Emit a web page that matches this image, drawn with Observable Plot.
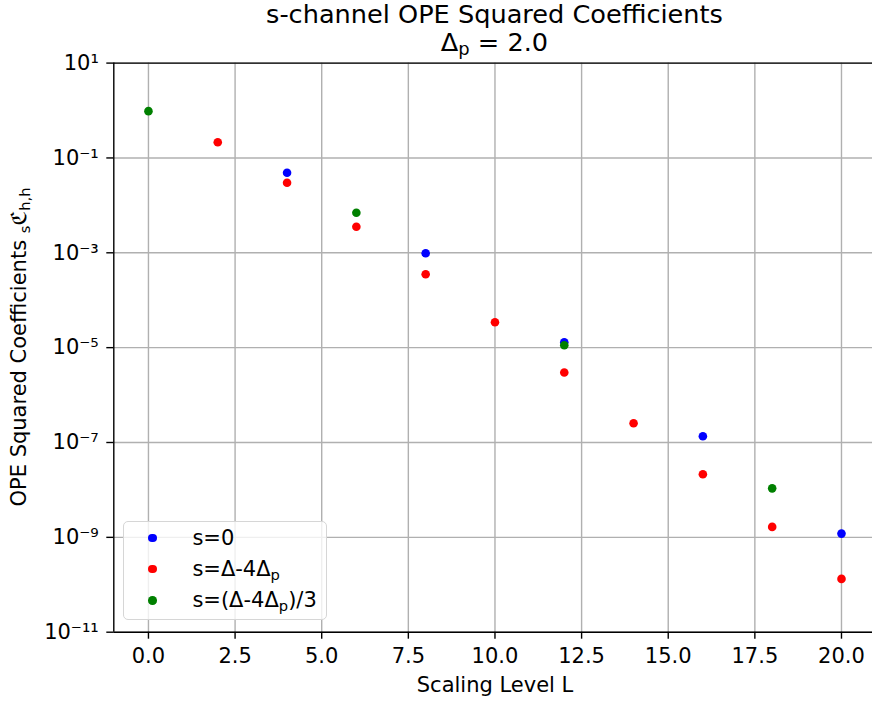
<!DOCTYPE html>
<html><head><meta charset="utf-8">
<script src="https://cdn.jsdelivr.net/npm/d3@7"></script>
<script src="https://cdn.jsdelivr.net/npm/@observablehq/plot@0.6"></script>
<style>
html,body{margin:0;padding:0;background:#fff;overflow:hidden}
#wrap{position:relative;width:872px;height:702px;font-family:"DejaVu Sans",sans-serif;color:#000}
#title{position:absolute;left:117px;width:755px;top:1.3px;text-align:center;font-size:25.6px;line-height:27.3px;white-space:nowrap}
sub{font-size:0.7em;vertical-align:-0.25em;line-height:0}
.ylab{position:absolute;left:26.5px;top:347px;width:0;height:0;transform:rotate(-90deg);transform-origin:0 0}
.ylab span{position:absolute;left:0;top:-17.8px;transform:translateX(-50%);white-space:nowrap;font-size:21px;line-height:21px}
#legend{position:absolute;left:123.3px;top:520.7px;width:203.4px;height:99.3px;box-sizing:border-box;border:1.3px solid #d6d6d6;border-radius:5px;background:rgba(255,255,255,0.8)}
.lm{position:absolute;width:8.6px;height:8.6px;border-radius:50%}
.lt{position:absolute;font-size:21px;line-height:21px;white-space:nowrap}
</style>
</head><body>
<div id="wrap"></div>
<script>
// ---- data ----
const seriesNames = ["s=0", "s=Δ-4Δp", "s=(Δ-4Δp)/3"];
const seriesLabelsHTML = ["s=0", "s=Δ-4Δ<sub>p</sub>", "s=(Δ-4Δ<sub>p</sub>)/3"];
const seriesColors = ["#0000ff", "#ff0000", "#008000"];

const L_s0 = [4, 8, 12, 16, 20];
const C_s0 = [0.0486, 9.8e-4, 1.30e-5, 1.35e-7, 1.20e-9];

const L_s1 = [2, 4, 6, 8, 10, 12, 14, 16, 18, 20];
const C_s1 = [0.215, 0.0299, 0.00353, 3.53e-4, 3.44e-5, 2.99e-6, 2.55e-7, 2.14e-8, 1.66e-9, 1.33e-10];

const L_s2 = [0, 6, 12, 18];
const C_s2 = [0.97, 0.00697, 1.12e-5, 1.08e-8];

const xTicks = [0, 2.5, 5, 7.5, 10, 12.5, 15, 17.5, 20];
const yTicks = [1e1, 1e-1, 1e-3, 1e-5, 1e-7, 1e-9, 1e-11];

const titleLine1 = "s-channel OPE Squared Coefficients";
const titleLine2HTML = "Δ<sub>p</sub> = 2.0";
const xLabel = "Scaling Level L";
const yLabelHTML = "OPE Squared Coefficients <sub>s</sub>ℭ<sub>h,h</sub>";

// ---- build table ----
const data = [
  ...L_s0.map((L, i) => ({L, C: C_s0[i], s: seriesNames[0]})),
  ...L_s1.map((L, i) => ({L, C: C_s1[i], s: seriesNames[1]})),
  ...L_s2.map((L, i) => ({L, C: C_s2[i], s: seriesNames[2]}))
];

const supMap = {"-":"⁻","0":"⁰","1":"¹","2":"²","3":"³","4":"⁴","5":"⁵","6":"⁶","7":"⁷","8":"⁸","9":"⁹"};
const fmtLog = v => "10" + String(Math.round(Math.log10(v))).split("").map(c => supMap[c]).join("");

const gridStyle = {stroke: "#b0b0b0", strokeOpacity: 1, strokeWidth: 1.4};
const spine = {stroke: "#000", strokeWidth: 1.4};

const chart = Plot.plot({
  width: 872, height: 702,
  marginLeft: 113.3, marginRight: 0, marginTop: 62.6, marginBottom: 70.3,
  style: {fontFamily: "DejaVu Sans", fontSize: "21px", background: "#fff", color: "#000"},
  x: {domain: [-1, 20.895], label: null},
  y: {type: "log", domain: [1e-11, 10], label: null},
  color: {domain: seriesNames, range: seriesColors},
  marks: [
    Plot.gridX(xTicks, gridStyle),
    Plot.gridY(yTicks, gridStyle),
    Plot.ruleX([-1], spine),
    Plot.ruleY([1e-11, 10], spine),
    Plot.axisX(xTicks, {tickSize: 7, tickPadding: 9, tickFormat: d3.format(".1f"), stroke: "#000", strokeWidth: 1.4, fontSize: 21, label: null}),
    Plot.axisY(yTicks, {tickSize: 7, tickPadding: 8, tickFormat: fmtLog, stroke: "#000", strokeWidth: 1.4, fontSize: 21, label: null}),
    Plot.text([xLabel], {text: d => d, frameAnchor: "bottom", dy: 60, dx: 1.9, fontSize: 21, fill: "#000"}),
    Plot.dot(data, {x: "L", y: "C", fill: "s", r: 4.3, stroke: null})
  ]
});

const wrap = document.getElementById("wrap");
wrap.appendChild(chart);

const title = document.createElement("div");
title.id = "title";
title.innerHTML = titleLine1 + "<br>" + titleLine2HTML;
wrap.appendChild(title);

const ylab = document.createElement("div");
ylab.className = "ylab";
ylab.innerHTML = "<span>" + yLabelHTML + "</span>";
wrap.appendChild(ylab);

const legend = document.createElement("div");
legend.id = "legend";
seriesNames.forEach((name, i) => {
  const m = document.createElement("div");
  m.className = "lm";
  m.style.background = seriesColors[i];
  m.style.left = (29.4 - 4.3 - 1.3) + "px";
  m.style.top = (17.6 + 31.2 * i - 4.3 - 1.3) + "px";
  legend.appendChild(m);
  const t = document.createElement("div");
  t.className = "lt";
  t.innerHTML = seriesLabelsHTML[i];
  t.style.left = (69.4 - 1.3) + "px";
  t.style.top = (25.3 + 31.2 * i - 17.8 - 1.3) + "px";
  legend.appendChild(t);
});
wrap.appendChild(legend);
</script>
</body></html>
